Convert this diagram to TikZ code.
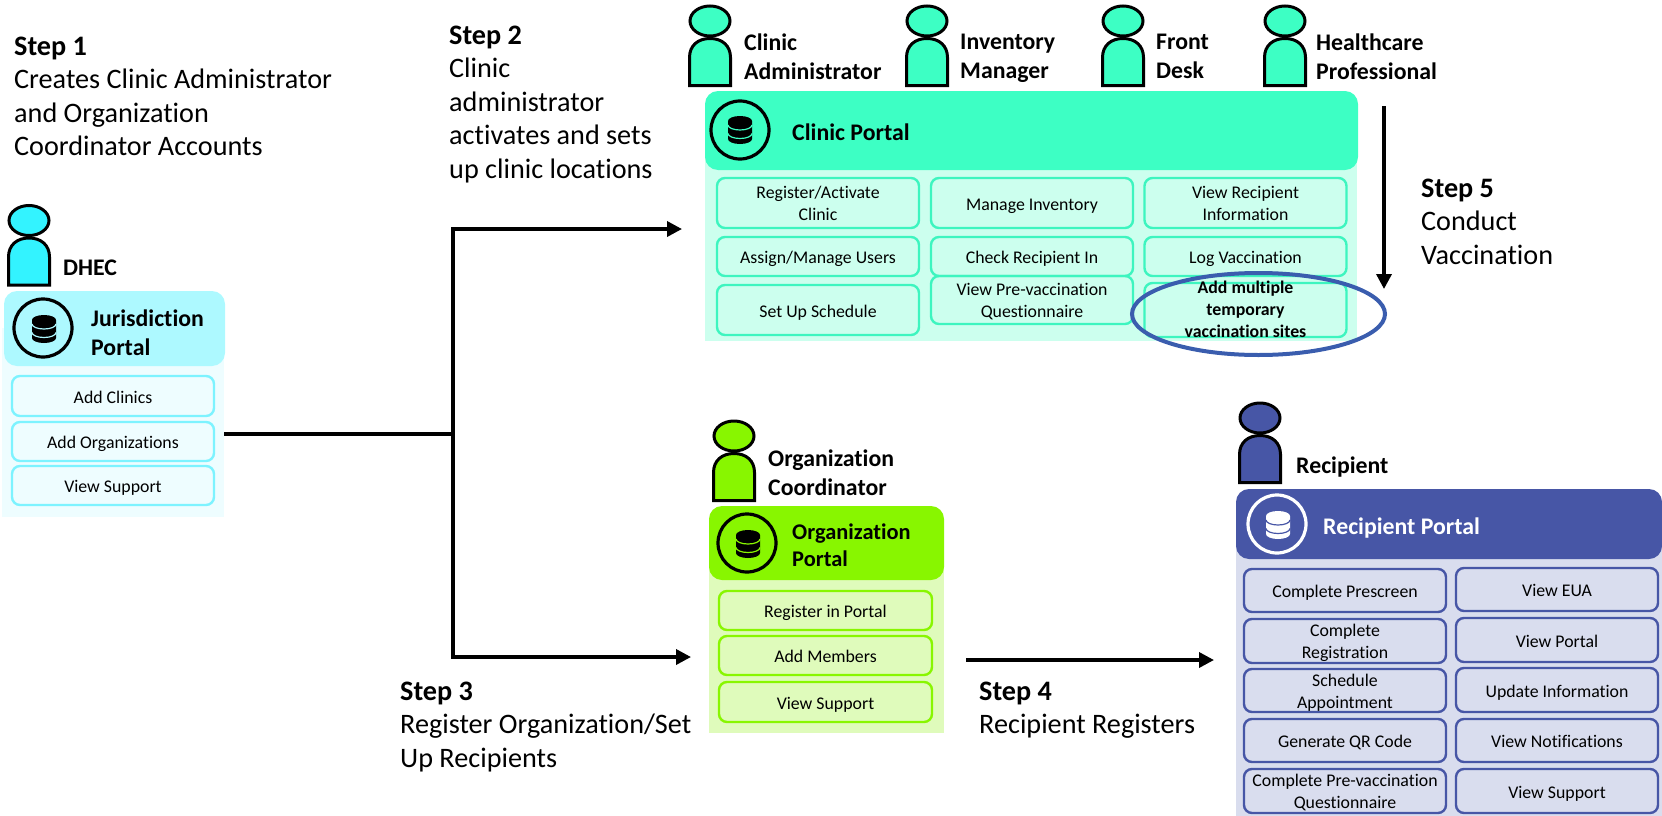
\documentclass[tikz,border=0pt]{standalone}
\usepackage{fontspec}
\setmainfont[Ligatures=NoCommon]{Carlito}
\usetikzlibrary{arrows.meta,shapes.geometric}

\definecolor{jurHead}{HTML}{ADF9FF}
\definecolor{jurPanel}{HTML}{EEFDFF}
\definecolor{jurLine}{HTML}{7DF3FF}
\definecolor{jurBody}{HTML}{33F3FF}
\definecolor{cliHead}{HTML}{3DFFC4}
\definecolor{cliPanel}{HTML}{CCFFEE}
\definecolor{cliLine}{HTML}{3DF5BF}
\definecolor{orgHead}{HTML}{88F600}
\definecolor{orgPanel}{HTML}{DFFBBB}
\definecolor{recHead}{HTML}{4756A6}
\definecolor{recPanel}{HTML}{D9DDEE}
\definecolor{ringBlue}{HTML}{3A5DAE}

\tikzset{
  panelbox/.style={fill=#1, inner sep=0pt, outer sep=0pt},
  headbox/.style={fill=#1, rounded corners=13pt, inner sep=0pt, outer sep=0pt},
  btn/.style={draw=#1, line width=2.4pt, rounded corners=8pt, inner sep=0pt, outer sep=0pt,
    align=center, font=\fontsize{17.8}{22}\selectfont, text height=18pt, text depth=4pt},
  twolines/.style={text height=35pt, text depth=0pt},
  threelines/.style={text height=54pt, text depth=-4pt},
  steptext/.style={anchor=north west, align=left, inner sep=0pt, font=\fontsize{28.2}{33.5}\selectfont},
  rolelabel/.style={anchor=north west, align=left, inner sep=0pt, font=\fontsize{23.8}{29}\selectfont\bfseries},
  portallabel/.style={anchor=north west, align=left, inner sep=0pt, font=\fontsize{23.8}{28.5}\selectfont\bfseries},
  dbring/.style={circle, draw=#1, line width=3.2pt, minimum size=58pt, inner sep=0pt},
  flow/.style={line width=3.5pt, -{Triangle[length=15pt,width=15pt]}},
  wire/.style={line width=3.5pt},
}

% person icon: name, x, top, fill
\newcommand{\personfig}[4]{
  \begin{scope}[shift={(#2,#3)}]
    \draw[line width=3pt, fill=#4] (-20.5,80) -- (-20.5,52)
      .. controls (-20.5,40) and (-12,33) .. (0,33)
      .. controls (12,33) and (20.5,40) .. (20.5,52) -- (20.5,80) -- cycle;
    \node[ellipse, draw, line width=3pt, fill=#4, minimum width=40pt, minimum height=30pt, inner sep=0pt] (#1) at (0,15.5) {};
  \end{scope}
}

% database icon: x, y, colour, gap colour
\newcommand{\dbicon}[4]{
  \begin{scope}[shift={(#1,#2)}]
    \fill[#3] (-12,-9) arc[start angle=180, end angle=360, x radius=12, y radius=5]
      -- (12,9) arc[start angle=0, end angle=180, x radius=12, y radius=5] -- cycle;
    \draw[#4, line width=1.2pt] (-12,-5) arc[start angle=180, end angle=0, x radius=12, y radius=5];
    \draw[#4, line width=1.2pt] (-12,3.5) arc[start angle=180, end angle=0, x radius=12, y radius=5];
  \end{scope}
}

\begin{document}
\begin{tikzpicture}[x=1pt, y=-1pt]
  \useasboundingbox (0,0) rectangle (1662,816);

  % Step texts
  \node[steptext] (stepOne) at (14,36.5) {\textbf{Step 1}\\Creates Clinic Administrator\\and Organization\\Coordinator Accounts};
  \node[steptext] (stepTwo) at (449,25.5) {\textbf{Step 2}\\Clinic\\administrator\\activates and sets\\up clinic locations};
  \node[steptext] (stepThree) at (400,681.5) {\textbf{Step 3}\\Register Organization/Set\\Up Recipients};
  \node[steptext] (stepFour) at (979,681.5) {\textbf{Step 4}\\Recipient Registers};
  \node[steptext] (stepFive) at (1421,178.5) {\textbf{Step 5}\\Conduct\\Vaccination};

  % Jurisdiction
  \personfig{dhec}{29}{205}{jurBody}
  \node[rolelabel] (dhecText) at (63,260) {DHEC};
  \node[panelbox=jurPanel, minimum width=222pt, minimum height=189pt] (jurBack) at (113,422.5) {};
  \node[headbox=jurHead, minimum width=221pt, minimum height=75pt] (jurTop) at (114.5,328.5) {};
  \node[dbring=black] (jurRing) at (43,328) {};
  \dbicon{44}{329}{black}{jurHead}
  \node[portallabel] (jurText) at (91,310) {Jurisdiction\\Portal};
  \foreach \name/\y/\h/\txt in {addClinics/396/40/{Add Clinics},
      addOrgs/441.5/39/{Add Organizations},
      jurSupport/485.5/39/{View Support}}
    \node[btn=jurLine, minimum width=202pt, minimum height=\h pt] (\name) at (113,\y) {\txt};

  % Clinic
  \personfig{clinicAdmin}{710}{5.5}{cliHead}
  \personfig{invManager}{927}{5.5}{cliHead}
  \personfig{frontDesk}{1123}{5.5}{cliHead}
  \personfig{hcPro}{1285}{5.5}{cliHead}
  \node[rolelabel] (adminText) at (744,34) {Clinic\\Administrator};
  \node[rolelabel] (invText) at (960,34) {Inventory\\Manager};
  \node[rolelabel] (frontText) at (1156,34) {Front\\Desk};
  \node[rolelabel] (hcText) at (1316,34) {Healthcare\\Professional};
  \node[panelbox=cliPanel, minimum width=652pt, minimum height=211pt] (cliBack) at (1031,235.5) {};
  \node[headbox=cliHead, minimum width=653pt, minimum height=79pt] (cliTop) at (1031.5,130.5) {};
  \node[dbring=black] (cliRing) at (740,130) {};
  \dbicon{740}{130}{black}{cliHead}
  \node[portallabel, anchor=west] (cliText) at (792,132) {Clinic Portal};
  \foreach \name/\x/\y/\h/\txt in {manageInv/1032/203/50/{Manage Inventory},
      assignUsers/818/256.5/39/{Assign/Manage Users},
      checkIn/1032/256.5/39/{Check Recipient In},
      logVacc/1245.5/256.5/39/{Log Vaccination},
      setSched/818/310/50/{Set Up Schedule}}
    \node[btn=cliLine, minimum width=202pt, minimum height=\h pt] (\name) at (\x,\y) {\txt};
  \foreach \name/\x/\y/\h/\txt in {regClinic/818/203/50/{Register/Activate\\Clinic},
      viewRec/1245.5/203/50/{View Recipient\\Information},
      preQuest/1032/300/48/{View Pre-vaccination\\Questionnaire}}
    \node[btn=cliLine, twolines, minimum width=202pt, minimum height=\h pt] (\name) at (\x,\y) {\txt};
  \node[btn=cliLine, threelines, minimum width=202pt, minimum height=50pt] (tempSites) at (1245.5,310) {\textbf{Add multiple}\\\textbf{temporary}\\\textbf{vaccination sites}};
  \node[ellipse, draw=ringBlue, line width=4pt, minimum width=253pt, minimum height=82pt, inner sep=0pt] (siteRing) at (1258.5,314) {};

  % Organization
  \personfig{orgCoord}{734}{420.5}{orgHead}
  \node[rolelabel] (coordText) at (768,450) {Organization\\Coordinator};
  \node[panelbox=orgPanel, minimum width=235pt, minimum height=190pt] (orgBack) at (826.5,638) {};
  \node[headbox=orgHead, minimum width=235pt, minimum height=74pt] (orgTop) at (826.5,543) {};
  \node[dbring=black] (orgRing) at (747,543) {};
  \dbicon{748}{544}{black}{orgHead}
  \node[portallabel, font=\fontsize{22.4}{27}\selectfont\bfseries] (orgText) at (792,524) {Organization\\Portal};
  \foreach \name/\y/\h/\txt in {regPortal/610.5/39/{Register in Portal},
      addMembers/655.5/39/{Add Members},
      orgSupport/702/40/{View Support}}
    \node[btn=orgHead, minimum width=213pt, minimum height=\h pt] (\name) at (825.5,\y) {\txt};

  % Recipient
  \personfig{recPerson}{1260}{402.5}{recHead}
  \node[rolelabel] (recName) at (1296,457) {Recipient};
  \node[panelbox=recPanel, minimum width=426pt, minimum height=292pt] (recBack) at (1449,670) {};
  \node[headbox=recHead, minimum width=426pt, minimum height=70pt] (recTop) at (1449,524) {};
  \node[dbring=white] (recRing) at (1277,524) {};
  \dbicon{1278}{525}{white}{recHead}
  \node[portallabel, anchor=west, text=white] (recText) at (1323,528) {Recipient Portal};
  \foreach \name/\x/\y/\h/\txt in {prescreen/1345/590.5/43/{Complete Prescreen},
      qrCode/1345/740.5/43/{Generate QR Code},
      viewEua/1557/589.5/43/{View EUA},
      viewPortal/1557/640/44/{View Portal},
      updInfo/1557/690/44/{Update Information},
      viewNotes/1557/740.5/43/{View Notifications},
      recSupport/1557/791/44/{View Support}}
    \node[btn=recHead, minimum width=202pt, minimum height=\h pt] (\name) at (\x,\y) {\txt};
  \foreach \name/\y/\h/\txt in {compReg/641/44/{Complete\\Registration},
      schedAppt/690.5/43/{Schedule\\Appointment},
      compQuest/791/44/{Complete Pre-vaccination\\Questionnaire}}
    \node[btn=recHead, twolines, minimum width=202pt, minimum height=\h pt] (\name) at (1345,\y) {\txt};

  % Connectors
  \coordinate (jurOut) at (224,434);
  \coordinate (split) at (453,434);
  \coordinate (clinicIn) at (682,229);
  \coordinate (orgIn) at (691,657);
  \coordinate (orgOut) at (966,660);
  \coordinate (recIn) at (1214,660);
  \coordinate (vaccTop) at (1384,106);
  \coordinate (vaccEnd) at (1384,289);
  \draw[wire] (jurOut) -- (split);
  \draw[flow] (split) |- (clinicIn);
  \draw[flow] (split) |- (orgIn);
  \draw[flow] (orgOut) -- (recIn);
  \draw[flow] (vaccTop) -- (vaccEnd);
\end{tikzpicture}
\end{document}
